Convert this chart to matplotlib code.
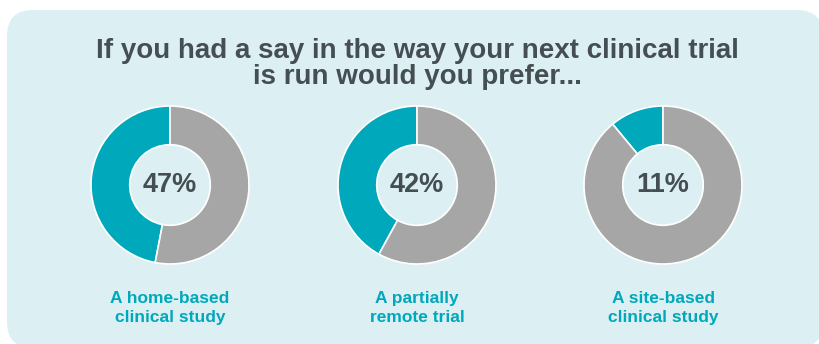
import matplotlib
matplotlib.use("Agg")
import matplotlib.pyplot as plt
from matplotlib.patches import FancyBboxPatch

# survey answers (% preferring each option)
labels = ["A home-based\nclinical study", "A partially\nremote trial", "A site-based\nclinical study"]
values = [47, 42, 11]

title = "If you had a say in the way your next clinical trial\nis run would you prefer..."

teal = "#00a8bc"
grey = "#a6a6a6"
bg = "#dcf0f3"
dark = "#454e52"

W, H = 819, 344
fig = plt.figure(figsize=(W / 100, H / 100), dpi=100)
ax = fig.add_axes([0, 0, 1, 1])

box = FancyBboxPatch((7, -4), 816, 338, boxstyle="round,pad=0,rounding_size=26",
                     facecolor=bg, edgecolor="none", zorder=0)
ax.add_patch(box)

centers_x = [170, 417, 663]
cy = H - 185
r = 79

for cx, v, lab in zip(centers_x, values, labels):
    ax.pie([v, 100 - v], colors=[teal, grey], startangle=90, counterclock=True,
           center=(cx, cy), radius=r, frame=True,
           wedgeprops=dict(width=r * 0.49, edgecolor="white", linewidth=1.2))
    ax.text(cx, cy, f"{v}%", ha="center", va="center", fontsize=19.5,
            fontweight="bold", color=dark, family="Liberation Sans")
    ax.text(cx, H - 308, lab, ha="center", va="center", fontsize=12.5,
            fontweight="bold", color=teal, family="Liberation Sans", linespacing=1.4)

ax.text(417, H - 64, title, ha="center", va="center", fontsize=20,
        fontweight="bold", color=dark, family="Liberation Sans",
        linespacing=1.02)

ax.set_xlim(0, W)
ax.set_ylim(0, H)
ax.set_aspect("auto")
ax.axis("off")

fig.savefig("out.png", dpi=100)
